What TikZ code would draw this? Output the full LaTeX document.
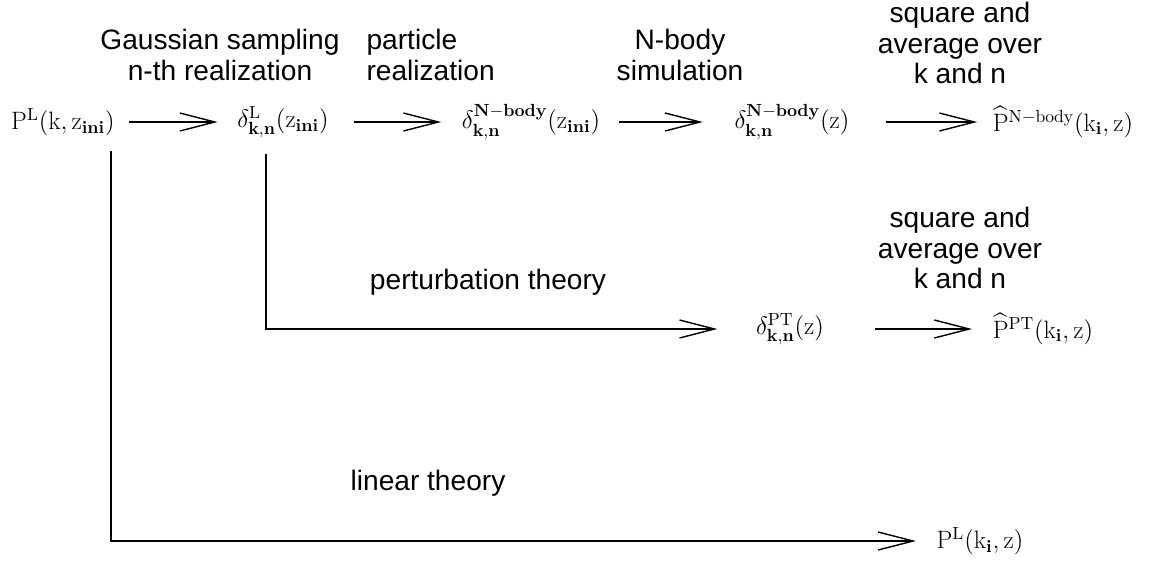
\RequirePackage{fix-cm}
\documentclass[tikz,border=0pt]{standalone}
\usepackage{amsmath}
\usepackage{fontspec}
\setmainfont{Liberation Sans}
\setmathrm{Latin Modern Roman}
\usetikzlibrary{arrows.meta}

\begin{document}
\begin{tikzpicture}[line width=0.8pt,
  font=\fontsize{14.3}{17}\selectfont,
  flow/.style={-{Straight Barb[length=0.7cm,width=0.36cm]}},
  qty/.style={inner sep=0pt},
  note/.style={align=center,font=\fontsize{16}{17.4}\selectfont}
]
\useasboundingbox (0,0) rectangle (22.98,-11.22);

%% top row
\node[qty] (pl) at (1.26,-2.44) {$\mathrm{P}^{\mathrm{L}}(\mathrm{k},\mathrm{z}_{\mathbf{ini}})$};
\node[qty] (dl) at (5.66,-2.44) {$\delta^{\mathrm{L}}_{\mathbf{k,n}}(\mathrm{z}_{\mathbf{ini}})$};
\node[qty] (dnb) at (10.62,-2.44) {$\delta^{\mathbf{N-body}}_{\mathbf{k,n}}(\mathrm{z}_{\mathbf{ini}})$};
\node[qty] (dnbz) at (15.84,-2.44) {$\delta^{\mathbf{N-body}}_{\mathbf{k,n}}(\mathrm{z})$};
\node[qty] (pnb) at (21.26,-2.44) {$\widehat{\mathrm{P}}^{\mathrm{N-body}}(\mathrm{k}_{\mathbf{i}},\mathrm{z})$};

\draw[flow,shorten <=0.28cm,shorten >=0.38cm] (pl) -- (dl);
\draw[flow,shorten <=0.5cm,shorten >=0.4cm] (dl) -- (dnb);
\draw[flow,shorten <=0.36cm,shorten >=0.62cm] (dnb) -- (dnbz);
\draw[flow,shorten <=0.72cm,shorten >=0.3cm] (dnbz) -- (pnb);

%% middle row
\node[qty] (dpt) at (15.8,-6.58) {$\delta^{\mathrm{PT}}_{\mathbf{k,n}}(\mathrm{z})$};
\node[qty] (ppt) at (20.86,-6.58) {$\widehat{\mathrm{P}}^{\mathrm{PT}}(\mathrm{k}_{\mathbf{i}},\mathrm{z})$};
\draw[flow,shorten <=1.0cm,shorten >=0.4cm] (dpt) -- (ppt);

%% bottom row
\node[qty] (plk) at (19.6,-10.82) {$\mathrm{P}^{\mathrm{L}}(\mathrm{k}_{\mathbf{i}},\mathrm{z})$};

%% elbows
\draw[flow,shorten >=0.4cm] ([xshift=0.96cm,yshift=-0.3cm]pl.south) |- (plk.west);
\draw[flow,shorten >=0.76cm] ([xshift=-0.34cm,yshift=-0.3cm]dl.south) |- (dpt.west);

%% labels
\node[note] (gauss) at (4.4,-1.1) {Gaussian sampling\\n-th realization};
\node[note,align=left,anchor=west] (part) at (7.2,-1.1) {particle\\realization};
\node[note] (sim) at (13.6,-1.1) {N-body\\simulation};
\node[note] (avg) at (19.2,-0.86) {square and\\average over\\k and n};
\node[note] (avgpt) at (19.2,-4.96) {square and\\average over\\k and n};
\node[note] (pert) at (9.76,-5.64) {perturbation theory};
\node[note] (lin) at (8.56,-9.66) {linear theory};
\end{tikzpicture}
\end{document}
